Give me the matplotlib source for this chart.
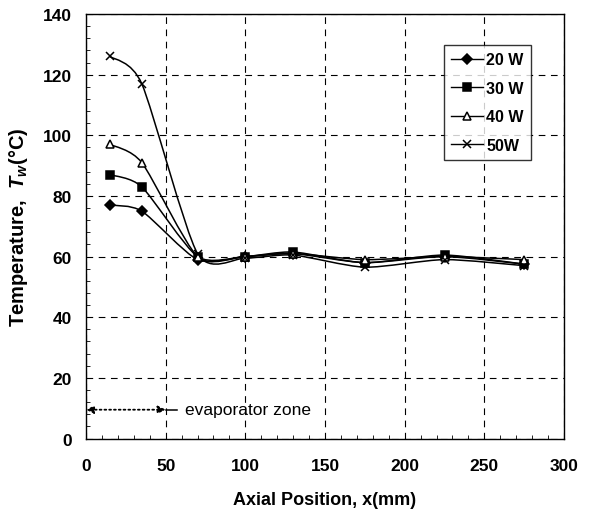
import matplotlib
matplotlib.use("Agg")
import matplotlib.pyplot as plt
from matplotlib.path import Path
from matplotlib.patches import PathPatch
from matplotlib.lines import Line2D

plt.rcParams['font.family'] = ['Liberation Sans', 'DejaVu Sans']
plt.rcParams['mathtext.fontset'] = 'custom'
plt.rcParams['mathtext.it'] = 'Liberation Sans:italic:bold'
plt.rcParams['mathtext.rm'] = 'Liberation Sans:bold'

x = [15, 35, 70, 100, 130, 175, 225, 275]
t20 = [77, 75, 59, 60, 61, 58, 60, 57.5]
t30 = [87, 83, 60, 60, 61.5, 58, 60.5, 57.5]
t40 = [97, 91, 60, 60, 61, 59, 60, 59]
t50 = [126, 117, 61, 59.5, 60.5, 56.5, 59, 57]
labels = ['20 W', '30 W', '40 W', '50W']
markers = ['D', 's', '^', 'x']


def smooth_path(xs, ys, k=0.12):
    # Excel-like smoothed line: cubic Bezier through the points
    verts = [(xs[0], ys[0])]
    codes = [Path.MOVETO]
    n = len(xs)
    for i in range(n - 1):
        p0 = (xs[max(i - 1, 0)], ys[max(i - 1, 0)])
        p1 = (xs[i], ys[i])
        p2 = (xs[i + 1], ys[i + 1])
        p3 = (xs[min(i + 2, n - 1)], ys[min(i + 2, n - 1)])
        c1 = (p1[0] + (p2[0] - p0[0]) * k, p1[1] + (p2[1] - p0[1]) * k)
        c2 = (p2[0] - (p3[0] - p1[0]) * k, p2[1] - (p3[1] - p1[1]) * k)
        verts += [c1, c2, p2]
        codes += [Path.CURVE4] * 3
    return Path(verts, codes)


fig = plt.figure(figsize=(5.94, 5.10), dpi=100)
ax = fig.add_axes([86/594, 1 - 439.5/510, 478/594, 424.5/510])

handles = []
for ys, lab, m in zip([t20, t30, t40, t50], labels, markers):
    ax.add_patch(PathPatch(smooth_path(x, ys), fill=False, lw=1.1, ec='black'))
    ms = 6 if m != 'D' else 5.5
    mfc = 'white' if m == '^' else 'black'
    ax.plot(x, ys, ls='none', marker=m, ms=ms, mfc=mfc, mec='black', mew=1.1)
    handles.append(Line2D([], [], color='black', lw=1.0, marker=m, ms=ms,
                          mfc=mfc, mec='black', mew=1.1, label=lab))

ax.set_xlim(0, 300)
ax.set_ylim(0, 140)
ax.set_xticks(range(0, 301, 50))
ax.set_yticks(range(0, 141, 20))
ax.set_xticks(range(0, 301, 10), minor=True)
ax.set_yticks(range(0, 141, 4), minor=True)
ax.grid(True, which='major', color='black', ls=(0, (6, 5)), lw=0.8)
ax.tick_params(which='both', direction='in', length=0)
ax.tick_params(which='minor', length=3, width=0.6)
ax.tick_params(axis='x', pad=14, labelsize=12.5)
ax.tick_params(axis='y', pad=10, labelsize=12.5)
for lab in ax.get_xticklabels() + ax.get_yticklabels():
    lab.set_fontweight('bold')
for s in ax.spines.values():
    s.set_linewidth(1.0)

ax.set_xlabel('Axial Position, x(mm)', fontsize=13, fontweight='bold', labelpad=13)
ax.set_ylabel(r'Temperature,  $T_w$(°C)', fontsize=14.5, fontweight='bold', labelpad=9)

# evaporator zone marker
ax.annotate('', xy=(0, 9.5), xytext=(50, 9.5),
            arrowprops=dict(arrowstyle='<|-|>', ls=':', lw=1.3, color='black',
                            mutation_scale=11, shrinkA=0, shrinkB=0))
ax.plot([50, 57], [9.5, 9.5], color='black', lw=1.1)
ax.text(62, 9.5, 'evaporator zone', fontsize=12.5, va='center', ha='left')

leg = ax.legend(handles=handles, loc='upper right', bbox_to_anchor=(0.931, 0.927),
                borderaxespad=0, prop={'weight': 'bold', 'size': 11.5}, frameon=True,
                fancybox=False, edgecolor='black', handlelength=2.0,
                labelspacing=0.85, borderpad=0.45, handletextpad=0.2)
leg.get_frame().set_linewidth(1.0)

fig.savefig('out.png', dpi=100)
